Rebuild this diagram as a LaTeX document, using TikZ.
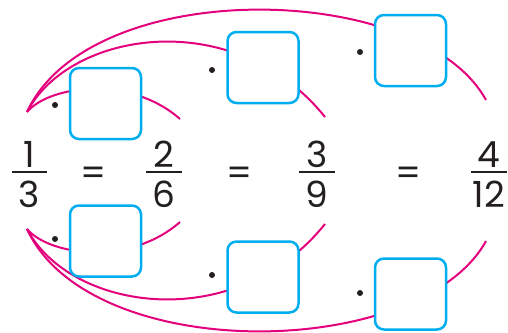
\documentclass[tikz,border=0pt]{standalone}
\usepackage{fontspec}
\setmainfont{Poppins}
\usepackage{xcolor}
\definecolor{fmagenta}{RGB}{228,0,124}
\definecolor{fcyan}{RGB}{0,174,239}
\definecolor{fink}{RGB}{35,31,32}
\usetikzlibrary{calc}
\tikzset{
  ansbox/.style={draw=fcyan, fill=white, line width=2.5pt, rounded corners=9pt,
                 minimum width=71pt, minimum height=71pt, inner sep=0pt},
  multdot/.style={circle, fill=fink, minimum size=6pt, inner sep=0pt},
  digit/.style={font=\fontsize{36}{40}\selectfont, text=fink, anchor=base, inner sep=0pt},
  fbar/.style={draw=fink, line width=2pt},
  link/.style={draw=fmagenta, line width=2pt},
}

\begin{document}
\begin{tikzpicture}[x=1pt, y=-1pt]
  \useasboundingbox (0,0) rectangle (508,332);
  % Fractions
  \node[digit] (n1) at (29.5,167) {1};
  \node[digit] (d1) at (29.5,207) {3};
  \node[digit] (n2) at (164,167) {2};
  \node[digit] (d2) at (164,207) {6};
  \node[digit] (n3) at (317,167) {3};
  \node[digit] (d3) at (317,207) {9};
  \node[digit] (n4) at (489,167) {4};
  \node[digit] (d4) at (489,207) {12};
  \draw[fbar] (12,172) -- (47,172);
  \draw[fbar] (146,172) -- (182,172);
  \draw[fbar] (299,172) -- (335,172);
  \draw[fbar] (471,172) -- (507,172);
  % Equals signs
  \node[digit] (eq1) at (94,185) {=};
  \node[digit] (eq2) at (240,185) {=};
  \node[digit] (eq3) at (409,185) {=};

  % Arc ends
  \coordinate (st) at (27,112);
  \coordinate (sb) at (27,229);
  \coordinate (e1t) at (180,119);
  \coordinate (e2t) at (325,117);
  \coordinate (e3t) at (486,100);
  \coordinate (e1b) at (180,222);
  \coordinate (e2b) at (325,224);
  \coordinate (e3b) at (486,241);
  % Arcs (drawn under the boxes)
  \draw[link] (st) .. controls +(23,-27) and +(-50,-44) .. (e1t);
  \draw[link] (st) .. controls +(43,-82) and +(-90,-112) .. (e2t);
  \draw[link] (st) .. controls +(63,-137) and +(-66,-120) .. (e3t);
  \draw[link] (sb) .. controls +(23,27) and +(-50,44) .. (e1b);
  \draw[link] (sb) .. controls +(43,82) and +(-90,112) .. (e2b);
  \draw[link] (sb) .. controls +(63,137) and +(-66,120) .. (e3b);

  % Boxes
  \node[ansbox] (b1t) at (105.5,103.5) {};
  \node[ansbox] (b2t) at (263,67.5) {};
  \node[ansbox] (b3t) at (410.5,50.5) {};
  \node[ansbox] (b1b) at (105.5,241) {};
  \node[ansbox] (b2b) at (263,277) {};
  \node[ansbox] (b3b) at (410.5,294) {};
  % Dots
  \node[multdot] (m1t) at (55,105) {};
  \node[multdot] (m2t) at (212,70) {};
  \node[multdot] (m3t) at (360,52) {};
  \node[multdot] (m1b) at (55,239) {};
  \node[multdot] (m2b) at (212,275) {};
  \node[multdot] (m3b) at (360,293) {};
\end{tikzpicture}
\end{document}
